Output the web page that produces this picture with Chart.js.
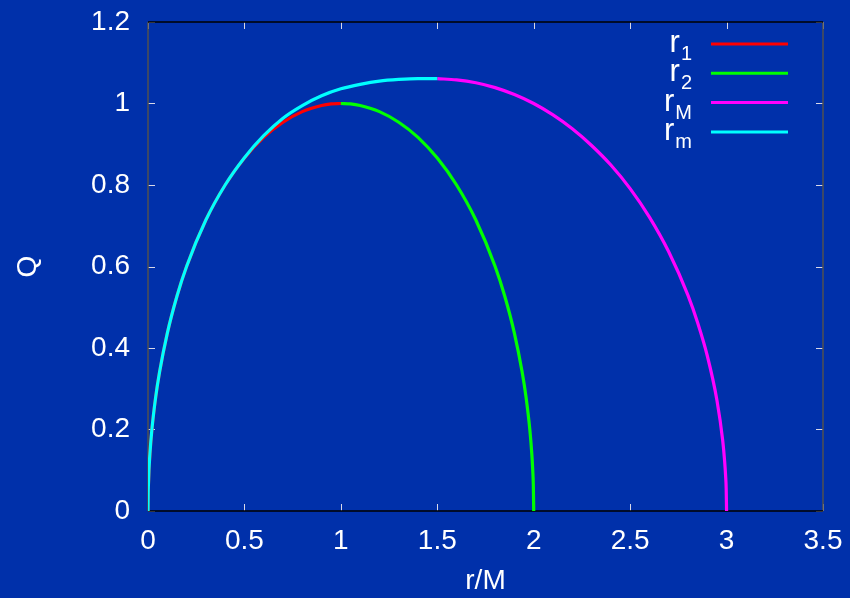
<!DOCTYPE html>
<html>
<head>
<meta charset="utf-8">
<title>Q vs r/M</title>
<script src="https://cdn.jsdelivr.net/npm/chart.js@4.4.0/dist/chart.umd.min.js"></script>
<style>
  html, body { margin: 0; padding: 0; background: #0030aa; }
  canvas { display: block; }
</style>
</head>
<body>
<canvas id="grafico" width="850" height="598"></canvas>
<script>
// series names (main_sub), colours
const seriesNames = ["r_1", "r_2", "r_M", "r_m"];
const seriesColors = ["#ff0000", "#00ff00", "#ff00ff", "#00ffff"];

// r1: inner branch up to r = 1
const r1X = [0, 0.001, 0.002, 0.005, 0.01, 0.02, 0.04, 0.06, 0.1, 0.15, 0.2, 0.3, 0.4, 0.5, 0.6, 0.7, 0.8, 0.9, 0.95, 1.0];
const r1Q = [0, 0.045, 0.063, 0.100, 0.141, 0.199, 0.280, 0.341, 0.436, 0.527, 0.600, 0.714, 0.800, 0.866, 0.917, 0.954, 0.980, 0.995, 0.999, 1.000];

// r2: outer branch from r = 1 to 2
const r2X = [1.0, 1.05, 1.1, 1.2, 1.3, 1.4, 1.5, 1.6, 1.7, 1.8, 1.85, 1.9, 1.94, 1.96, 1.98, 1.99, 1.995, 1.998, 2.0];
const r2Q = [1.000, 0.999, 0.995, 0.980, 0.954, 0.917, 0.866, 0.800, 0.714, 0.600, 0.527, 0.436, 0.341, 0.280, 0.199, 0.141, 0.100, 0.063, 0];

// rM: from r = 1.5 to 3
const rMX = [1.5, 1.6, 1.7, 1.8, 1.9, 2.0, 2.1, 2.2, 2.3, 2.4, 2.5, 2.6, 2.7, 2.8, 2.85, 2.9, 2.95, 2.98, 2.99, 2.995, 2.998, 3.0];
const rMQ = [1.061, 1.058, 1.051, 1.039, 1.022, 1.000, 0.972, 0.938, 0.897, 0.849, 0.791, 0.721, 0.636, 0.529, 0.462, 0.381, 0.272, 0.173, 0.122, 0.087, 0.055, 0];

// rm: from r = 0 to 1.5
const rmX = [0, 0.001, 0.002, 0.005, 0.01, 0.02, 0.04, 0.06, 0.1, 0.15, 0.2, 0.3, 0.4, 0.5, 0.6, 0.7, 0.8, 0.9, 1.0, 1.1, 1.2, 1.3, 1.4, 1.5];
const rmQ = [0, 0.045, 0.063, 0.100, 0.141, 0.199, 0.280, 0.341, 0.436, 0.527, 0.600, 0.714, 0.800, 0.867, 0.921, 0.964, 0.995, 1.019, 1.036, 1.047, 1.055, 1.059, 1.061, 1.061];

const xTicks = [0, 0.5, 1, 1.5, 2, 2.5, 3, 3.5];
const yTicks = [0, 0.2, 0.4, 0.6, 0.8, 1, 1.2];

const FONT = "'Liberation Sans', Arial, Helvetica, sans-serif";

function puntos(xs, ys) {
  return xs.map((x, i) => ({ x: x, y: ys[i] }));
}

const series = [[r1X, r1Q], [r2X, r2Q], [rMX, rMQ], [rmX, rmQ]];
const drawOrder = [3, 2, 1, 0]; // rm on top

// frame with inward ticks (gnuplot style)
const marco = {
  id: "marco",
  beforeDatasetsDraw(chart) {
    const { ctx, chartArea: a, scales } = chart;
    const t = 7;
    ctx.save();
    ctx.lineWidth = 1;
    ctx.strokeStyle = "#d8d8e8";
    ctx.beginPath();
    xTicks.forEach(v => {
      const px = Math.round(scales.x.getPixelForValue(v)) + 0.5;
      ctx.moveTo(px, a.bottom); ctx.lineTo(px, a.bottom - t);
      ctx.moveTo(px, a.top); ctx.lineTo(px, a.top + t);
    });
    yTicks.forEach(v => {
      const py = Math.round(scales.y.getPixelForValue(v)) + 0.5;
      ctx.moveTo(a.left, py); ctx.lineTo(a.left + t, py);
      ctx.moveTo(a.right, py); ctx.lineTo(a.right - t, py);
    });
    ctx.stroke();

    ctx.lineWidth = 1.5;
    ctx.strokeStyle = "#505050";
    ctx.beginPath();
    ctx.moveTo(a.left, a.top); ctx.lineTo(a.left, a.bottom);
    ctx.moveTo(a.right, a.top); ctx.lineTo(a.right, a.bottom);
    ctx.stroke();
    ctx.strokeStyle = "#000000";
    ctx.beginPath();
    ctx.moveTo(a.left, a.top); ctx.lineTo(a.right, a.top);
    ctx.moveTo(a.left, a.bottom); ctx.lineTo(a.right, a.bottom);
    ctx.stroke();
    ctx.restore();
  },
  afterDatasetsDraw(chart) {
    // legend with subscripts, right aligned text + line sample
    const ctx = chart.ctx;
    ctx.save();
    ctx.fillStyle = "#ffffff";
    ctx.textBaseline = "alphabetic";
    seriesNames.forEach((nombre, i) => {
      const [main, sub] = nombre.split("_");
      const y = 44 + i * 29.3;
      ctx.font = "31px " + FONT;
      const wMain = ctx.measureText(main).width;
      ctx.font = "20px " + FONT;
      const wSub = ctx.measureText(sub).width;
      const x0 = 691 - wMain - wSub;
      ctx.font = "31px " + FONT;
      ctx.fillText(main, x0, y + 8);
      ctx.font = "20px " + FONT;
      ctx.fillText(sub, x0 + wMain + 1, y + 16);

      ctx.strokeStyle = seriesColors[i];
      ctx.lineWidth = 3;
      ctx.beginPath();
      ctx.moveTo(711, y);
      ctx.lineTo(788, y);
      ctx.stroke();
    });
    ctx.restore();
  }
};

const ctx = document.getElementById("grafico").getContext("2d");
const chart = new Chart(ctx, {
  type: "line",
  data: {
    datasets: series.map((s, i) => ({
      label: seriesNames[i],
      data: puntos(s[0], s[1]),
      borderColor: seriesColors[i],
      borderWidth: 3.2,
      pointRadius: 0,
      fill: false,
      cubicInterpolationMode: "monotone",
      order: drawOrder[i]
    }))
  },
  options: {
    responsive: false,
    animation: false,
    devicePixelRatio: 1,
    layout: { padding: { top: 22, right: 27, left: 0, bottom: 0 } },
    plugins: {
      legend: { display: false },
      tooltip: { enabled: false }
    },
    scales: {
      x: {
        type: "linear",
        min: 0,
        max: 3.5,
        afterFit: s => { s.height = 87; s.paddingLeft = 0; s.paddingRight = 0; },
        afterBuildTicks: s => { s.ticks = xTicks.map(v => ({ value: v })); },
        grid: { display: false, drawTicks: false },
        border: { display: false },
        ticks: {
          color: "#ffffff",
          font: { family: FONT, size: 28 },
          padding: 13,
          maxRotation: 0,
          autoSkip: false,
          callback: v => String(v)
        },
        title: {
          display: true,
          text: "r/M",
          color: "#ffffff",
          font: { family: FONT, size: 28 },
          padding: { top: 0, bottom: 0 }
        }
      },
      y: {
        type: "linear",
        min: 0,
        max: 1.2,
        afterFit: s => { s.width = 148; s.paddingTop = 0; s.paddingBottom = 0; },
        afterBuildTicks: s => { s.ticks = yTicks.map(v => ({ value: v })); },
        grid: { display: false, drawTicks: false },
        border: { display: false },
        ticks: {
          color: "#ffffff",
          font: { family: FONT, size: 28 },
          padding: 18,
          autoSkip: false,
          callback: v => String(v)
        },
        title: {
          display: true,
          text: "Q",
          color: "#ffffff",
          font: { family: FONT, size: 28 },
          padding: { top: 11, bottom: 0 }
        }
      }
    }
  },
  plugins: [marco]
});
</script>
</body>
</html>
